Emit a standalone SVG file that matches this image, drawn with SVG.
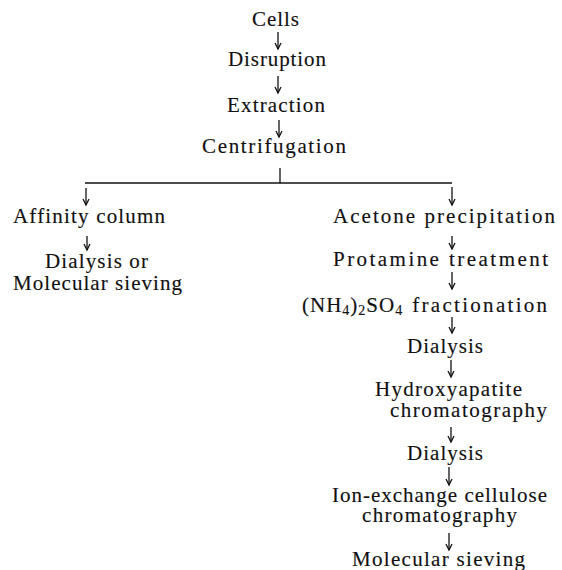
<svg xmlns="http://www.w3.org/2000/svg" width="562" height="570" viewBox="0 0 562 570">
<style>
text{font-family:"Liberation Serif","Times New Roman",serif;font-size:21px;fill:#111;stroke:#111;stroke-width:0.15}
.c line{stroke:#111;stroke-width:1.3;fill:none}
.sub{font-size:14px}
</style>
<defs>
<marker id="ah" markerWidth="10" markerHeight="10" refX="8" refY="4" orient="auto" markerUnits="userSpaceOnUse" viewBox="0 0 10 8">
<path d="M2,1 L8,4 L2,7" stroke="#111" stroke-width="1.3" fill="none"/>
</marker>
</defs>
<rect width="562" height="570" fill="#fff"/>
<g class="c" id="connectors">
<line x1="278" y1="32" x2="278" y2="49" marker-end="url(#ah)"/>
<line x1="278" y1="76" x2="278" y2="93" marker-end="url(#ah)"/>
<line x1="279" y1="120" x2="279" y2="137" marker-end="url(#ah)"/>
<line x1="280" y1="168" x2="280" y2="183"/>
<line x1="85" y1="183" x2="452" y2="183"/>
<line x1="86" y1="188" x2="86" y2="205" marker-end="url(#ah)"/>
<line x1="87" y1="236" x2="87" y2="250" marker-end="url(#ah)"/>
<line x1="452" y1="187" x2="452" y2="205" marker-end="url(#ah)"/>
<line x1="452" y1="236" x2="452" y2="249" marker-end="url(#ah)"/>
<line x1="452" y1="272" x2="452" y2="289" marker-end="url(#ah)"/>
<line x1="452" y1="317" x2="452" y2="333" marker-end="url(#ah)"/>
<line x1="451" y1="360" x2="451" y2="377" marker-end="url(#ah)"/>
<line x1="451" y1="427" x2="451" y2="442" marker-end="url(#ah)"/>
<line x1="449" y1="467" x2="449" y2="485" marker-end="url(#ah)"/>
<line x1="449" y1="533" x2="449" y2="550" marker-end="url(#ah)"/>
</g>
<g id="cells"><text x="252" y="26" textLength="47" lengthAdjust="spacing">Cells</text></g>
<g id="disruption"><text x="228" y="66" textLength="98" lengthAdjust="spacing">Disruption</text></g>
<g id="extraction"><text x="227" y="112" textLength="98" lengthAdjust="spacing">Extraction</text></g>
<g id="centrifugation"><text x="202" y="153" textLength="144" lengthAdjust="spacing">Centrifugation</text></g>
<g id="affinity"><text x="13" y="223" textLength="152" lengthAdjust="spacing">Affinity column</text></g>
<g id="dialysis-or">
<text x="45" y="268" textLength="103" lengthAdjust="spacing">Dialysis or</text>
<text x="13" y="290" textLength="169" lengthAdjust="spacing">Molecular sieving</text>
</g>
<g id="acetone"><text x="333" y="223" textLength="222" lengthAdjust="spacing">Acetone precipitation</text></g>
<g id="protamine"><text x="333" y="266" textLength="215" lengthAdjust="spacing">Protamine treatment</text></g>
<g id="ammonium"><text x="302" y="312" style="letter-spacing:1px">(NH<tspan class="sub" dy="3">4</tspan><tspan dy="-3">)</tspan><tspan class="sub" dy="3">2</tspan><tspan dy="-3">SO</tspan><tspan class="sub" dy="3">4</tspan><tspan dy="-3" dx="9" style="letter-spacing:2.3px">fractionation</tspan></text></g>
<g id="dialysis1"><text x="407" y="353" textLength="76" lengthAdjust="spacing">Dialysis</text></g>
<g id="hydroxyapatite">
<text x="375" y="396" textLength="147" lengthAdjust="spacing">Hydroxyapatite</text>
<text x="390" y="417" textLength="157" lengthAdjust="spacing">chromatography</text>
</g>
<g id="dialysis2"><text x="407" y="460" textLength="76" lengthAdjust="spacing">Dialysis</text></g>
<g id="ionexchange">
<text x="332" y="502" textLength="215" lengthAdjust="spacing">Ion-exchange cellulose</text>
<text x="362" y="522" textLength="155" lengthAdjust="spacing">chromatography</text>
</g>
<g id="sieving"><text x="352" y="566" textLength="173" lengthAdjust="spacing">Molecular sieving</text></g>
</svg>
